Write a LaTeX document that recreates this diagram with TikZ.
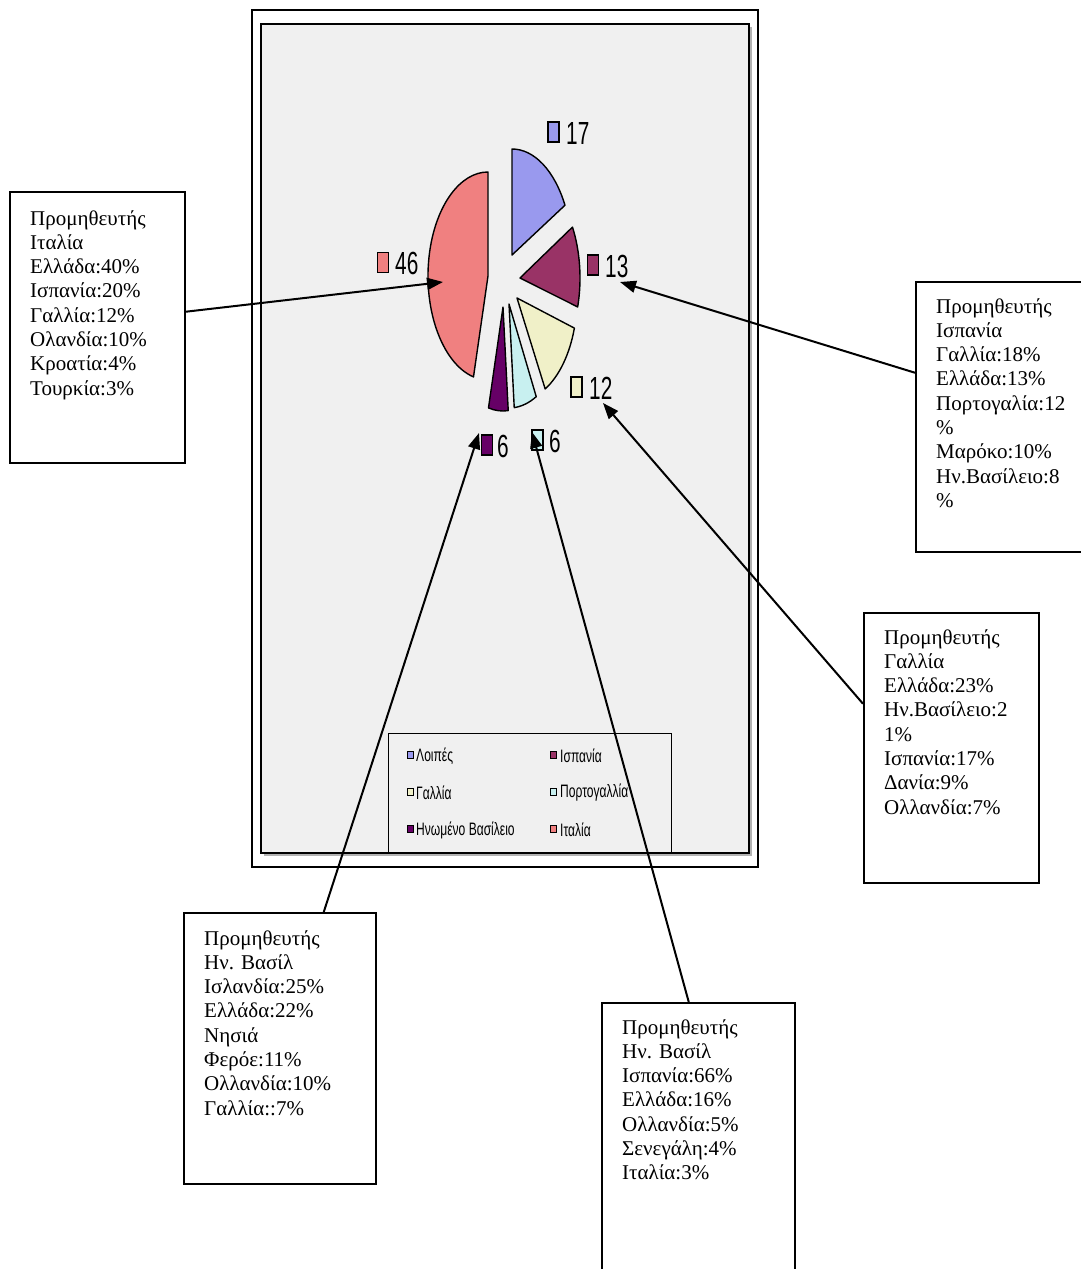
\documentclass[tikz,border=0pt]{standalone}
\usepackage{fontspec}
\setmainfont{Liberation Serif}
\newfontfamily\chartfont[FakeStretch=0.65]{Liberation Sans}
\newfontfamily\legfont[FakeStretch=0.67]{Liberation Sans}
\usetikzlibrary{arrows.meta}
\definecolor{chartbg}{HTML}{F0F0F0}
\definecolor{cOther}{HTML}{9999EE}
\definecolor{cSpain}{HTML}{993366}
\definecolor{cFrance}{HTML}{F0F0C8}
\definecolor{cPort}{HTML}{C8F0F0}
\definecolor{cUK}{HTML}{660066}
\definecolor{cItaly}{HTML}{F08080}
\tikzset{
  slice/.style={draw=black, line width=1.4pt, line join=round},
  valsq/.style={draw=black, line width=1.2pt, minimum width=11pt, minimum height=20pt, inner sep=0pt},
  valtxt/.style={anchor=west, inner sep=0pt, font=\chartfont\fontsize{32}{32}\selectfont},
  legsq/.style={draw=black, line width=1pt, minimum width=6pt, minimum height=7pt, inner sep=0pt},
  legtxt/.style={anchor=west, inner sep=0pt, font=\legfont\fontsize{18}{18}\selectfont},
  infobox/.style={draw=black, line width=1.5pt, fill=white, anchor=north west, inner sep=0pt},
  infotxt/.style={anchor=north west, inner sep=0pt, align=left, font=\fontsize{21}{24.3}\selectfont},
  arr/.style={line width=2pt, -{Triangle[length=16pt,width=12pt]}}
}
\begin{document}
\begin{tikzpicture}[x=1pt,y=-1pt]
\useasboundingbox (0,0) rectangle (1081,1269);
\clip (0,0) rectangle (1081,1269);
\fill[white] (0,0) rectangle (1081,1269);
% chart frame
\draw[line width=1.5pt] (252,10) rectangle (758,867);
\fill[gray!60] (264,27) rectangle (752,856);
\draw[line width=2pt, fill=chartbg] (261,24) rectangle (749,853);
% pie slices
\draw[slice, fill=cOther] (512,255) -- ++(270:60 and 106) arc[start angle=270, end angle=332, x radius=60, y radius=106] -- cycle;
\draw[slice, fill=cSpain] (520,278) -- ++(-29:60 and 105) arc[start angle=-29, end angle=16, x radius=60, y radius=105] -- cycle;
\draw[slice, fill=cFrance] (517,298) -- ++(17:60 and 103) arc[start angle=17, end angle=62, x radius=60, y radius=103] -- cycle;
\draw[slice, fill=cPort] (509,304) -- ++(63:60 and 104) arc[start angle=63, end angle=85, x radius=60, y radius=104] -- cycle;
\draw[slice, fill=cUK] (503,307) -- ++(85:60 and 104) arc[start angle=85, end angle=104, x radius=60, y radius=104] -- cycle;
\draw[slice, fill=cItaly] (488,276) -- ++(104:60 and 104) arc[start angle=104, end angle=270, x radius=60, y radius=104] -- cycle;
% value labels
\node[valsq, fill=cOther] (sq17) at (553.5,132) {};
\node[valtxt] (v17) at (566,133) {17};
\node[valsq, fill=cSpain] (sq13) at (593,265) {};
\node[valtxt] (v13) at (605,266) {13};
\node[valsq, fill=cFrance] (sq12) at (576.5,387) {};
\node[valtxt] (v12) at (589,388) {12};
\node[valsq, fill=cUK] (sq6a) at (487,445) {};
\node[valtxt] (v6a) at (497,446) {6};
\node[valsq, fill=cPort] (sq6b) at (537.5,440) {};
\node[valtxt] (v6b) at (549,441) {6};
\node[valsq, fill=cItaly] (sq46) at (383,262.5) {};
\node[valtxt] (v46) at (395,263) {46};
% legend
\node[draw=black, line width=1.4pt, fill=chartbg, anchor=north west, minimum width=283pt, minimum height=119pt, inner sep=0pt] (legend) at (388,733) {};
\node[legsq, fill=cOther] (l1s) at (410,755) {};
\node[legtxt] (l1t) at (416,756) {Λοιπές};
\node[legsq, fill=cSpain] (l2s) at (553,755) {};
\node[legtxt] (l2t) at (560,756) {Ισπανία};
\node[legsq, fill=cFrance] (l3s) at (410,792) {};
\node[legtxt] (l3t) at (416,793) {Γαλλία};
\node[legsq, fill=cPort] (l4s) at (553,792) {};
\node[legtxt] (l4t) at (560,793) {Πορτογαλλία};
\node[legsq, fill=cUK] (l5s) at (410,829) {};
\node[legtxt] (l5t) at (416,830) {Ηνωμένο Βασίλειο};
\node[legsq, fill=cItaly] (l6s) at (553,829) {};
\node[legtxt] (l6t) at (560,830) {Ιταλία};
% info boxes
\node[infobox, minimum width=175pt, minimum height=271pt] (b1) at (9,191) {};
\node[infotxt] (t1) at ([shift={(21pt,-19pt)}]b1.north west) {Προμηθευτής\\Ιταλία\\Ελλάδα:40\%\\Ισπανία:20\%\\Γαλλία:12\%\\Ολανδία:10\%\\Κροατία:4\%\\Τουρκία:3\%};
\node[infobox, minimum width=175pt, minimum height=270pt] (b2) at (915,281) {};
\node[infotxt] (t2) at ([shift={(21pt,-17pt)}]b2.north west) {Προμηθευτής\\Ισπανία\\Γαλλία:18\%\\Ελλάδα:13\%\\Πορτογαλία:12\\\%\\Μαρόκο:10\%\\Ην.Βασίλειο:8\\\%};
\node[infobox, minimum width=175pt, minimum height=270pt] (b3) at (863,612) {};
\node[infotxt] (t3) at ([shift={(21pt,-17pt)}]b3.north west) {Προμηθευτής\\Γαλλία\\Ελλάδα:23\%\\Ην.Βασίλειο:2\\1\%\\Ισπανία:17\%\\Δανία:9\%\\Ολλανδία:7\%};
\node[infobox, minimum width=192pt, minimum height=271pt] (b4) at (183,912) {};
\node[infotxt] (t4) at ([shift={(21pt,-18pt)}]b4.north west) {Προμηθευτής\\Ην. Βασίλ\\Ισλανδία:25\%\\Ελλάδα:22\%\\Νησιά\\Φερόε:11\%\\Ολλανδία:10\%\\Γαλλία::7\%};
\node[infobox, minimum width=193pt, minimum height=275pt] (b5) at (601,1002) {};
\node[infotxt] (t5) at ([shift={(21pt,-17pt)}]b5.north west) {Προμηθευτής\\Ην. Βασίλ\\Ισπανία:66\%\\Ελλάδα:16\%\\Ολλανδία:5\%\\Σενεγάλη:4\%\\Ιταλία:3\%};
% arrow targets
\coordinate (a1) at (443,282);
\coordinate (a2) at (620,282);
\coordinate (a3) at (603,403);
\coordinate (a4) at (479,433);
\coordinate (a5) at (532,432);
% arrows
\draw[arr] ([yshift=15.5pt]b1.east) -- (a1);
\draw[arr] ([yshift=44pt]b2.west) -- (a2);
\draw[arr] ([yshift=44pt]b3.west) -- (a3);
\draw[arr] ([xshift=44pt]b4.north) -- (a4);
\draw[arr] ([xshift=-9.5pt]b5.north) -- (a5);
\end{tikzpicture}
\end{document}
